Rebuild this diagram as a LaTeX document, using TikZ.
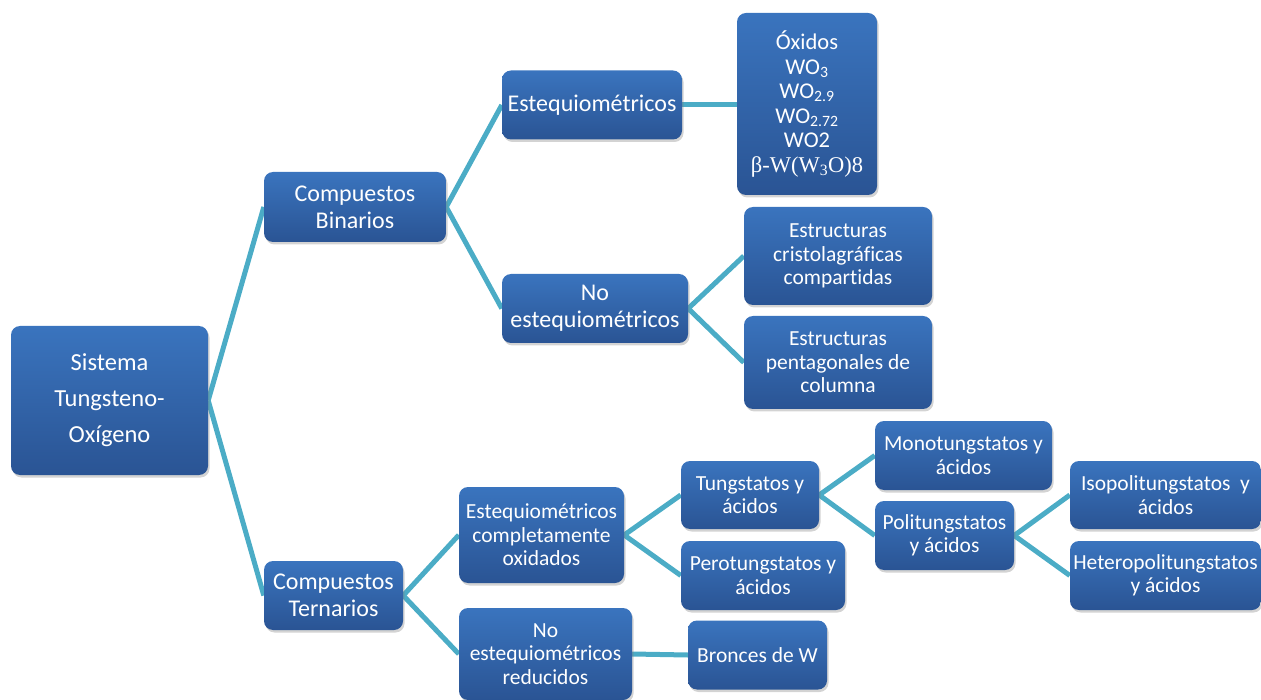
\documentclass[tikz,border=0pt]{standalone}
\usepackage{fontspec}
\setmainfont{Carlito}[Ligatures=NoCommon]
\newfontfamily\serifgreek{Liberation Serif}
\usepackage{tikz}
\usetikzlibrary{shadows,backgrounds}

\definecolor{boxtop}{HTML}{3A74BE}
\definecolor{boxbot}{HTML}{2A5494}
\definecolor{linkcol}{HTML}{4BACC6}

\begin{document}
\begin{tikzpicture}[x=1pt,y=-1pt,
    box/.style={rectangle,rounded corners=9pt,top color=boxtop,bottom color=boxbot,
        draw=none,text=white,align=center,inner sep=2pt,
        drop shadow={opacity=0.35,shadow xshift=1.5pt,shadow yshift=-2.5pt},
        font=\fontsize{24}{27}\selectfont},
    small/.style={font=\fontsize{21.5}{23.5}\selectfont},
    link/.style={draw=linkcol,line width=5pt}]
            \useasboundingbox (0,0) rectangle (1261,700);

            \node[box,minimum width=197pt,minimum height=149pt,font=\fontsize{24.5}{36}\selectfont] (sis) at (109.5,400.5) {Sistema\\Tungsteno-\\Oxígeno};

            \node[box,minimum width=182pt,minimum height=70pt] (bin) at (355,207) {Compuestos\\Binarios};
            \node[box,minimum width=139pt,minimum height=69pt] (ter) at (333.5,595.5) {Compuestos\\Ternarios};

            \node[box,minimum width=180pt,minimum height=69pt] (est) at (592,105) {Estequiométricos};
            \node[box,minimum width=186pt,minimum height=69pt] (noest) at (595,308.5) {No\\estequiométricos};
            \node[box,minimum width=140pt,minimum height=182pt,font=\fontsize{22.5}{24.5}\selectfont] (oxi) at (807,104)
                {Óxidos\\WO\textsubscript{3}\\WO\textsubscript{2.9}\\WO\textsubscript{2.72}\\WO2\\{\serifgreek β-W(W\textsubscript{3}O)8}};
            \node[box,small,minimum width=188pt,minimum height=98pt] (cris) at (838,256) {Estructuras\\cristolagráficas\\compartidas};
            \node[box,small,minimum width=188pt,minimum height=93pt] (pent) at (838,362.5) {Estructuras\\pentagonales de\\columna};

            \node[box,small,minimum width=165pt,minimum height=96pt] (comp) at (541.5,535) {Estequiométricos\\completamente\\oxidados};
            \node[box,small,minimum width=173pt,minimum height=92pt] (red) at (545.5,654) {No\\estequiométricos\\reducidos};
            \node[box,small,minimum width=139pt,minimum height=69pt] (bron) at (757.5,655) {Bronces de W};

            \node[box,small,minimum width=138pt,minimum height=68pt] (tung) at (750,495) {Tungstatos y\\ácidos};
            \node[box,small,minimum width=164pt,minimum height=69pt] (pero) at (763,575.5) {Perotungstatos y\\ácidos};
            \node[box,small,minimum width=177pt,minimum height=69pt] (mono) at (963.5,455.5) {Monotungstatos y\\ácidos};
            \node[box,small,minimum width=139pt,minimum height=69pt] (poli) at (944.5,535.5) {Politungstatos\\y ácidos};
            \node[box,small,minimum width=191pt,minimum height=68pt] (iso) at (1165.5,495) {Isopolitungstatos\ \ y\\ácidos};
            \node[box,small,minimum width=191pt,minimum height=69pt] (het) at (1165.5,575.5) {Heteropolitungstatos\\y ácidos};

            % connectors behind the boxes
            \begin{scope}[on background layer]
            \draw[link] (sis.east) -- (bin.west);
            \draw[link] (sis.east) -- (ter.west);
            \draw[link] (bin.east) -- (est.west);
            \draw[link] (bin.east) -- (noest.west);
            \draw[link] (est.east) -- (est.east -| oxi.west);
            \draw[link] (noest.east) -- (cris.west);
            \draw[link] (noest.east) -- (pent.west);
            \draw[link] (ter.east) -- (comp.west);
            \draw[link] (ter.east) -- (red.west);
            \draw[link] (comp.east) -- (tung.west);
            \draw[link] (comp.east) -- (pero.west);
            \draw[link] (red.east) -- (bron.west);
            \draw[link] (tung.east) -- (mono.west);
            \draw[link] (tung.east) -- (poli.west);
            \draw[link] (poli.east) -- (iso.west);
            \draw[link] (poli.east) -- (het.west);
            \end{scope}
        \end{tikzpicture}
\end{document}
